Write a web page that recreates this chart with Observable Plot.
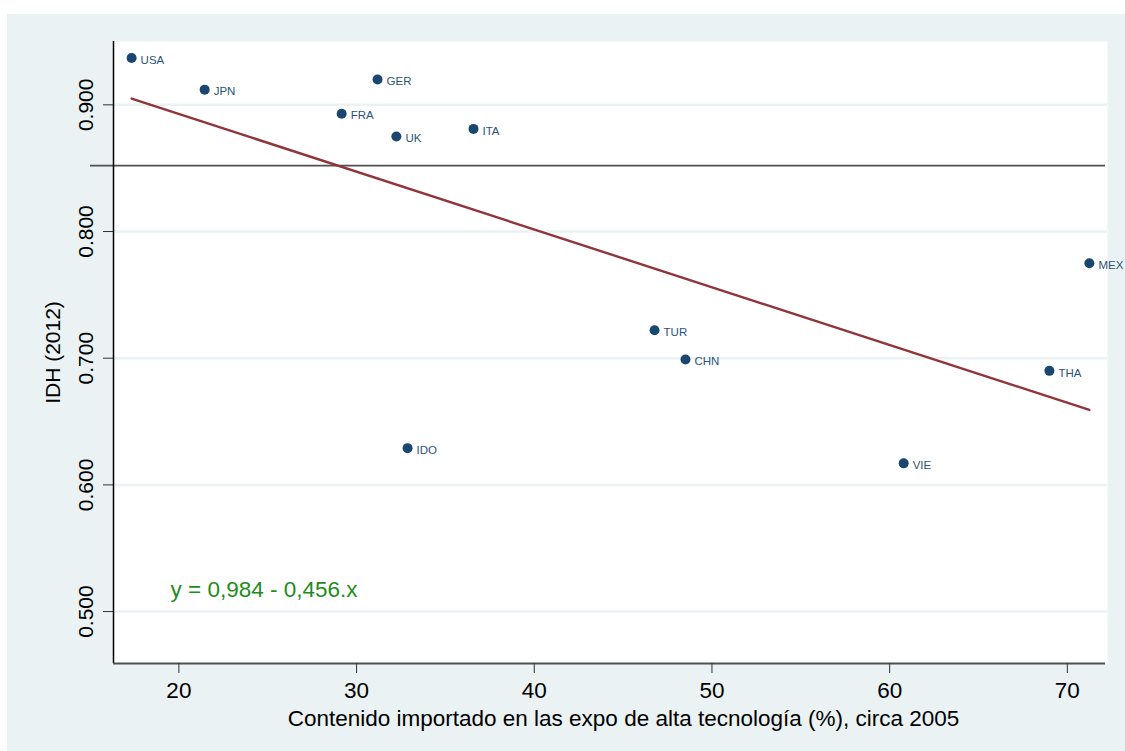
<!DOCTYPE html>
<html>
<head>
<meta charset="utf-8">
<script src="https://cdn.jsdelivr.net/npm/d3@7"></script>
<script src="https://cdn.jsdelivr.net/npm/@observablehq/plot@0.6"></script>
<style>
  html, body { margin: 0; padding: 0; background: #ffffff; }
  #panel {
    position: absolute; left: 7px; top: 14px;
    width: 1118px; height: 737px;
    background: #EAF2F3;
  }
</style>
</head>
<body>
<div id="panel"></div>
<script>
// Countries: imported content in high-tech exports (%, c. 2005) vs HDI 2012
const countries = ["USA", "JPN", "GER", "FRA", "UK", "ITA", "TUR", "CHN", "MEX", "THA", "IDO", "VIE"];
const importedContent = [17.34, 21.45, 31.18, 29.16, 32.24, 36.58, 46.77, 48.51, 71.24, 68.99, 32.87, 60.79];
const hdi2012 = [0.937, 0.912, 0.920, 0.893, 0.875, 0.881, 0.722, 0.699, 0.775, 0.690, 0.629, 0.617];

// Fitted line y = a - b * (x / 100)
const fitIntercept = 0.984;
const fitSlope = -0.456;
const fitLabel = "y = 0,984 - 0,456.x";

// Reference HDI threshold line
const hdiThreshold = [0.852];

const xTicks = [20, 30, 40, 50, 60, 70];
const yTicks = [0.5, 0.6, 0.7, 0.8, 0.9];
const xDomain = [16.32, 72.26];
const yDomain = [0.459, 0.950];

const xTitle = "Contenido importado en las expo de alta tecnología (%), circa 2005";
const yTitle = "IDH (2012)";

const points = countries.map((c, i) => ({country: c, x: importedContent[i], y: hdi2012[i]}));
const xMin = d3.min(importedContent), xMax = d3.max(importedContent);
const fitLine = [xMin, xMax].map(x => ({x, y: fitIntercept + fitSlope * x / 100}));
const labelPos = [{x: 19.53, y: 0.517}];

const chart = Plot.plot({
  width: 1118,
  height: 737,
  marginLeft: 106,
  marginTop: 27,
  marginRight: 18,
  marginBottom: 88,
  style: {
    fontFamily: "'Liberation Sans', Arial, sans-serif",
    background: "transparent",
    color: "#000"
  },
  x: {domain: xDomain},
  y: {domain: yDomain},
  marks: [
    Plot.frame({fill: "white", stroke: "none"}),
    Plot.gridY(yTicks, {stroke: "#EAF2F3", strokeOpacity: 1, strokeWidth: 2.5}),
    Plot.ruleY(hdiThreshold, {stroke: "#505050", strokeWidth: 1.6, insetLeft: -23, insetRight: 2}),
    Plot.ruleX([xDomain[0]], {stroke: "#000", strokeWidth: 1.5}),
    Plot.ruleY([yDomain[0]], {stroke: "#505050", strokeWidth: 2, insetRight: 2}),
    Plot.axisX({
      ticks: xTicks, tickSize: 10, tickPadding: 9, fontSize: 22.5,
      stroke: "#333", label: null
    }),
    Plot.text([xTitle], {
      frameAnchor: "bottom", text: d => d, lineAnchor: "top",
      dx: 13, dy: 47, fontSize: 22.5, fill: "#000"
    }),
    Plot.axisY({
      ticks: yTicks, tickFormat: d3.format(".3f"), tickSize: 10, tickPadding: 11,
      tickRotate: -90, fontSize: 21, stroke: "#333",
      label: yTitle, labelAnchor: "center", labelArrow: "none", labelOffset: 68
    }),
    Plot.line(fitLine, {x: "x", y: "y", stroke: "#90353B", strokeWidth: 2.4}),
    Plot.dot(points, {x: "x", y: "y", r: 5, fill: "#1A476F", stroke: "none"}),
    Plot.text(points, {
      x: "x", y: "y", text: "country", textAnchor: "start",
      dx: 9, dy: 2, fontSize: 11.5, fill: "#2A5478"
    }),
    Plot.text(labelPos, {
      x: "x", y: "y", text: () => fitLabel, textAnchor: "start",
      fontSize: 22.5, fill: "#1E8C1E"
    })
  ]
});

document.getElementById("panel").appendChild(chart);
</script>
</body>
</html>
